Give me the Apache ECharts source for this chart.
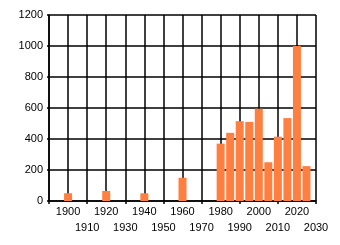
<!DOCTYPE html>
<html>
<head>
<meta charset="utf-8">
<script src="https://cdn.jsdelivr.net/npm/echarts@6/dist/echarts.min.js"></script>
<style>html,body{margin:0;padding:0;background:#fff}#c{width:340px;height:245px}</style>
</head>
<body>
<div id="c"></div>
<script>
var years = [1900, 1920, 1940, 1960, 1980, 1985, 1990, 1995, 2000, 2005, 2010, 2015, 2020, 2025];
var counts = [50, 65, 50, 150, 370, 440, 515, 510, 595, 250, 415, 535, 1000, 225];
var xMin = 1890, xMax = 2030, xStep = 10;
var yTicks = [0, 200, 400, 600, 800, 1000, 1200];

var chart = echarts.init(document.getElementById('c'), null, {renderer: 'canvas'});
var font = 'Liberation Sans';
chart.setOption({
  animation: false,
  grid: {left: 49, right: 24, top: 15, bottom: 44, containLabel: false},
  xAxis: [{
    type: 'value', min: xMin, max: xMax, interval: xStep,
    axisLine: {show: true, lineStyle: {color: '#000', width: 1.5}},
    axisTick: {show: false},
    splitLine: {show: true, lineStyle: {color: '#000', width: 1.5}},
    axisLabel: {
      color: '#000', fontFamily: font, fontSize: 11, margin: 5,
      hideOverlap: false, showMinLabel: true, showMaxLabel: true,
      formatter: function (v) {
        return (v % 20 === 0) ? String(v) : '';
      }
    }
  }, {
    type: 'value', min: xMin, max: xMax, interval: 20, position: 'bottom',
    axisLine: {show: false},
    axisTick: {show: true, length: 3, lineStyle: {color: '#000', width: 1.5}},
    splitLine: {show: false},
    axisLabel: {
      color: '#000', fontFamily: font, fontSize: 11, margin: 21,
      hideOverlap: false, showMinLabel: true, showMaxLabel: true,
      formatter: function (v) { return v === xMin ? '' : String(v); }
    }
  }],
  yAxis: {
    type: 'value', min: yTicks[0], max: yTicks[yTicks.length - 1], interval: 200,
    axisLine: {show: true, lineStyle: {color: '#000', width: 1.5}},
    axisTick: {show: true, length: 2, lineStyle: {color: '#000', width: 1.5}},
    splitLine: {show: true, lineStyle: {color: '#000', width: 1.5}},
    axisLabel: {color: '#000', fontFamily: font, fontSize: 11, margin: 6,
      formatter: function (v) { return String(v); }}
  },
  series: [{
    type: 'bar',
    xAxisIndex: 0,
    barWidth: 8,
    itemStyle: {color: '#ff7f40'},
    data: years.map(function (y, i) { return [y, counts[i]]; })
  }]
});
</script>
</body>
</html>
